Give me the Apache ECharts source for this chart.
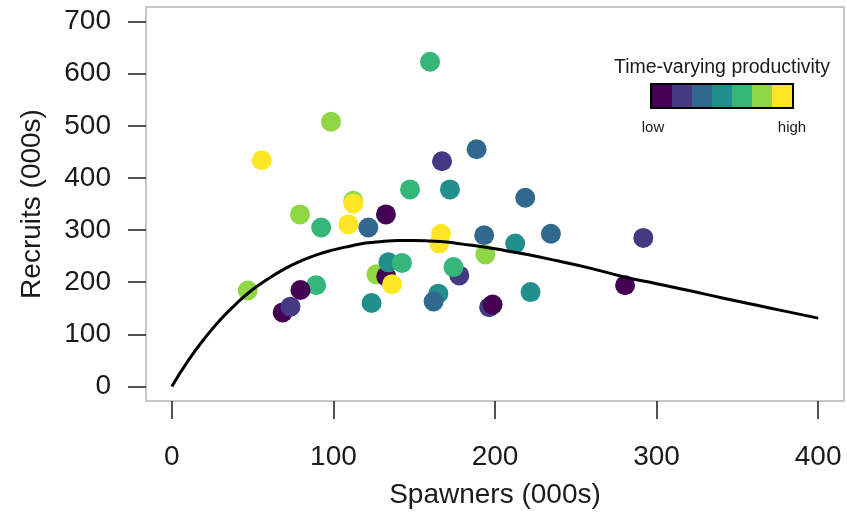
<!doctype html>
<html>
<head>
<meta charset="utf-8"/>
<title>Spawners vs recruits</title>
<script src="https://cdn.jsdelivr.net/npm/echarts@6/dist/echarts.min.js"></script>
<style>
body { margin: 0; background-color: #fff; }
#main { width: 847px; height: 521px; }
</style>
</head>
<body>
<div id="main"></div>
<script>
// observed stock-recruit pairs (000s) and their productivity class (1 = low .. 7 = high)
const spawners = [159.8, 98.5, 55.6, 167.2, 188.6, 147.4, 172.1, 218.7, 112.3, 112.3,
    132.5, 79.3, 92.4, 109.2, 121.6, 166.6, 165.5, 193.3, 234.6, 212.5,
    291.8, 194.0, 47.0, 89.3, 126.6, 132.7, 134.0, 142.4, 136.3, 177.9,
    174.3, 123.6, 79.6, 68.6, 73.4, 164.9, 162.0, 196.4, 198.5, 222.0, 280.5];
const recruits = [623, 508, 434, 432, 455, 378, 378, 362, 356, 351,
    330, 330, 305, 311, 305, 293, 274, 290, 293, 274,
    285, 253, 184, 194, 215, 211, 238, 237, 196, 213,
    229, 160, 185, 142, 153, 178, 163, 152, 157, 181, 194];
const productivity = [5, 6, 7, 2, 3, 5, 4, 3, 6, 7,
    1, 6, 5, 7, 3, 7, 7, 3, 3, 4,
    2, 6, 6, 5, 6, 1, 4, 5, 7, 2,
    5, 4, 1, 1, 2, 4, 3, 2, 1, 4, 1];

// fitted curve
const curveS = [0, 10, 20, 30, 40, 50, 60, 70, 80, 90, 100, 110, 120, 130, 140, 150,
    160, 170, 180, 190, 200, 220, 240, 260, 280, 300, 320, 340, 360, 380, 400];
const curveR = [0, 49, 91, 128, 159, 186, 207, 226, 241, 253, 262, 269, 275, 278, 280, 280,
    279, 277, 273, 269, 264, 253, 240, 226, 210, 197, 184, 170, 157, 144, 131];

const levels = [1, 2, 3, 4, 5, 6, 7];
const levelColors = ['#440154', '#443a83', '#31688e', '#21908c', '#35b779', '#8fd744', '#fde725'];
const xTicks = [0, 100, 200, 300, 400];
const yTicks = [0, 100, 200, 300, 400, 500, 600, 700];

const font = "'Liberation Sans', Arial, sans-serif";
const ink = '#1a1a1a';

// R-style 4% padding around the tick range
function padded(ticks) {
    const lo = ticks[0], hi = ticks[ticks.length - 1];
    const pad = (hi - lo) * 0.04;
    return [lo - pad, hi + pad];
}
const xRange = padded(xTicks);
const yRange = padded(yTicks);

const chart = echarts.init(document.getElementById('main'), null, {renderer: 'canvas'});

chart.setOption({
    animation: false,
    textStyle: {fontFamily: font},
    grid: {
        left: 146, top: 7, width: 698, height: 394, containLabel: false,
        show: true, borderColor: '#c6c6c6', borderWidth: 2, backgroundColor: 'transparent'
    },
    xAxis: {
        type: 'value',
        min: xRange[0], max: xRange[1],
        axisLine: {show: false, onZero: false},
        axisTick: {show: true, length: 18, customValues: xTicks, lineStyle: {color: ink, width: 1.5}},
        splitLine: {show: false},
        axisLabel: {fontSize: 28, color: ink, margin: 42, customValues: xTicks, fontFamily: font},
        name: 'Spawners (000s)',
        nameLocation: 'middle',
        nameGap: 80,
        nameTextStyle: {fontSize: 28, color: ink, fontFamily: font}
    },
    yAxis: {
        type: 'value',
        min: yRange[0], max: yRange[1],
        axisLine: {show: false, onZero: false},
        axisTick: {show: true, length: 18, customValues: yTicks, lineStyle: {color: ink, width: 1.5}},
        splitLine: {show: false},
        axisLabel: {fontSize: 28, color: ink, margin: 35, customValues: yTicks, fontFamily: font},
        name: 'Recruits (000s)',
        nameLocation: 'middle',
        nameGap: 100,
        nameTextStyle: {fontSize: 28, color: ink, fontFamily: font}
    },
    visualMap: {
        type: 'piecewise',
        seriesIndex: 0,
        dimension: 2,
        orient: 'horizontal',
        left: 652, top: 85,
        padding: 0,
        itemWidth: 20, itemHeight: 22, itemGap: 0,
        itemSymbol: 'rect',
        showLabel: false,
        selectedMode: false,
        hoverLink: false,
        pieces: levels.map((v, i) => ({value: v, color: levelColors[i]}))
    },
    graphic: [
        // colour bar frame + texts
        {type: 'rect', shape: {x: 651, y: 84, width: 142, height: 24}, z: 100,
            style: {fill: 'transparent', stroke: '#000', lineWidth: 2}},
        {type: 'text', x: 722, y: 68, z: 100,
            style: {text: 'Time-varying productivity', font: '19.5px ' + font, fill: ink,
                textAlign: 'center', textVerticalAlign: 'middle'}},
        {type: 'text', x: 653, y: 128, z: 100,
            style: {text: 'low', font: '15px ' + font, fill: ink,
                textAlign: 'center', textVerticalAlign: 'middle'}},
        {type: 'text', x: 792, y: 128, z: 100,
            style: {text: 'high', font: '15px ' + font, fill: ink,
                textAlign: 'center', textVerticalAlign: 'middle'}}
    ],
    series: [
        {
            type: 'scatter',
            symbolSize: 20,
            z: 2,
            itemStyle: {opacity: 1},
            emphasis: {disabled: true},
            data: spawners.map((s, i) => [s, recruits[i], productivity[i]])
        },
        {
            type: 'line',
            z: 3,
            showSymbol: false,
            smooth: true,
            silent: true,
            lineStyle: {color: '#000', width: 3},
            data: curveS.map((s, i) => [s, curveR[i]])
        }
    ]
});
</script>
</body>
</html>
